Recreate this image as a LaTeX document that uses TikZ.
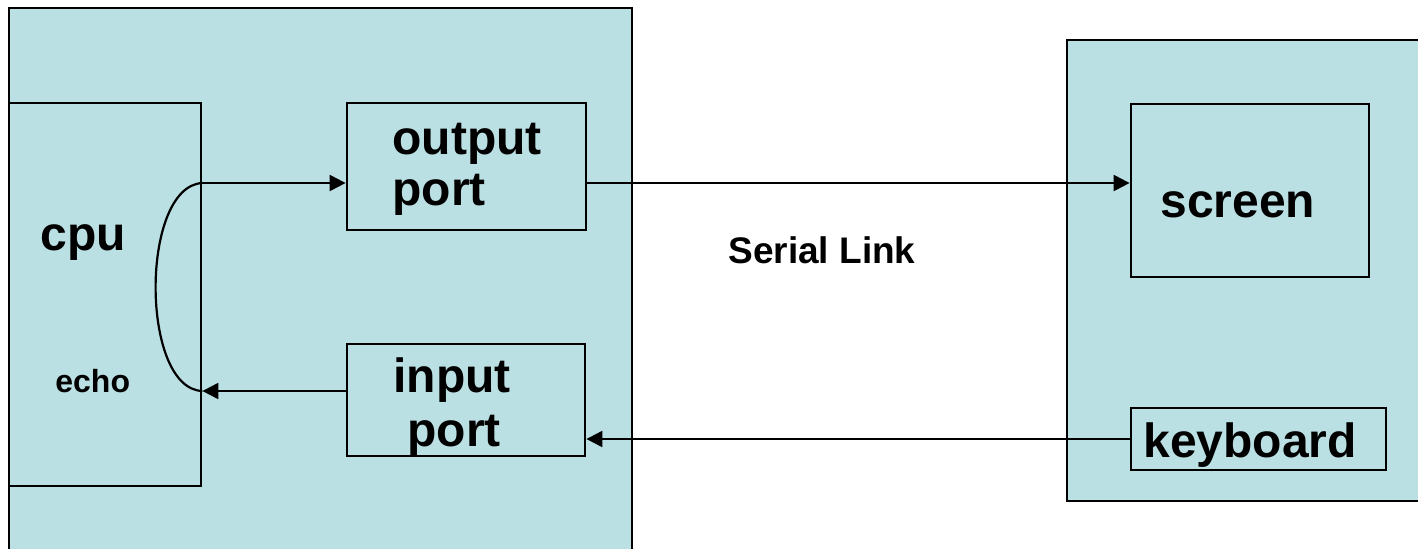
\documentclass[tikz,border=0pt]{standalone}
\usepackage{fontspec}
\setmainfont{Liberation Sans}
\usetikzlibrary{arrows.meta,fit}
\definecolor{panel}{RGB}{187,224,227}
\tikzset{
  unit/.style={draw=black, line width=1.4pt, fill=panel, inner sep=0pt},
  box/.style={draw=black, line width=1.4pt, inner sep=0pt},
  lbl/.style={inner sep=0pt, anchor=base west, font=\fontsize{24}{28}\selectfont\bfseries},
  small/.style={inner sep=0pt, anchor=base west, font=\fontsize{16}{19}\selectfont\bfseries},
  mid/.style={inner sep=0pt, anchor=base west, font=\fontsize{18.5}{22}\selectfont\bfseries},
  link/.style={line width=1.1pt, -{Triangle[length=8pt,width=8pt]}},
  wire/.style={line width=1.1pt}
}
\begin{document}
\begin{tikzpicture}[x=0.5pt,y=-0.5pt]
\useasboundingbox (0,0) rectangle (1418,548);
\clip (0,0) rectangle (1418,548);
\fill[white] (0,0) rectangle (1418,548);

% computer and terminal panels
\node[unit, fit={(9,8) (632,570)}] (host) {};
\node[unit, fit={(1067,40) (1440,501)}] (term) {};

% inner blocks
\node[box, fit={(9,103) (201,486)}] (cpu) {};
\node[box, fit={(347,103) (586,230)}] (out) {};
\node[box, fit={(347,344) (585,456)}] (inp) {};
\node[box, fit={(1131,104) (1369,277)}] (scr) {};
\node[box, fit={(1131,408) (1386,470)}] (kbd) {};

% labels
\node[lbl] (cputxt) at (40,250) {cpu};
\node[small] (echotxt) at (55,392) {echo};
\node[lbl] (outtxt1) at (392,154) {output};
\node[lbl] (outtxt2) at (392,205) {port};
\node[lbl] (inptxt1) at (393,392) {input};
\node[lbl] (inptxt2) at (407,446) {port};
\node[lbl] (scrtxt) at (1160,217) {screen};
\node[lbl] (kbdtxt) at (1143,457) {keyboard};
\node[mid] (serial) at (728,263) {Serial Link};

% signal levels
\coordinate (txrow) at (0,183);
\coordinate (rxrow) at (0,391);

% connections
\draw[link] (cpu.east |- txrow) -- (out.west |- txrow);
\draw[link] (out.east |- txrow) -- (scr.west |- txrow);
\draw[link] (kbd.west) -- (inp.east |- kbd.west);
\draw[link] (inp.west |- rxrow) -- (cpu.east |- rxrow);
\draw[wire] (cpu.east |- txrow) .. controls (140,186) and (140,389) .. (cpu.east |- rxrow);
\end{tikzpicture}
\end{document}
